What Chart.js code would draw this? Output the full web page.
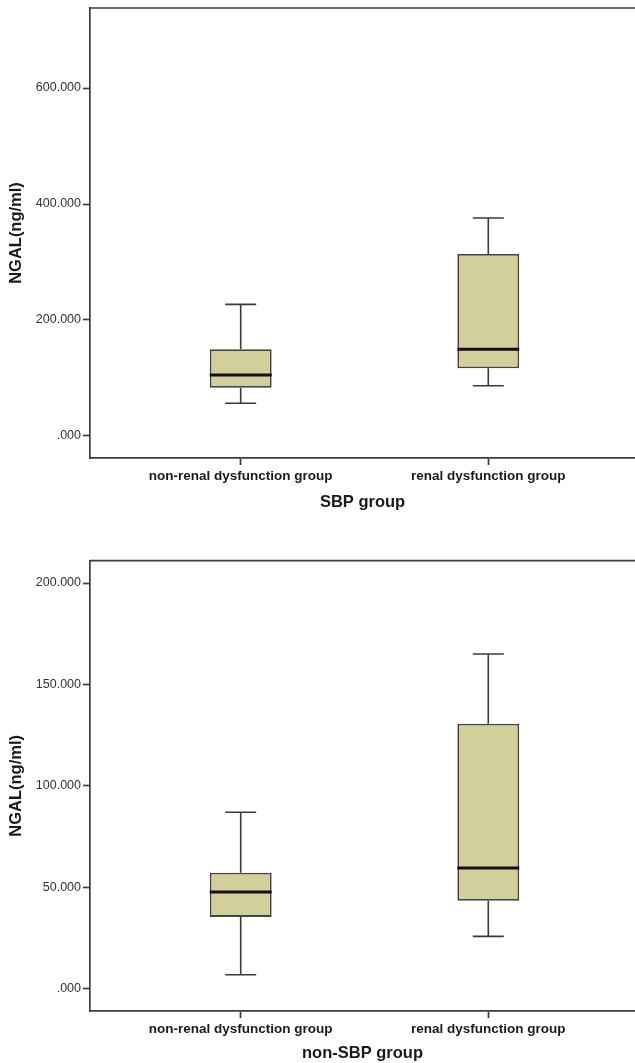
<!DOCTYPE html>
<html>
<head>
<meta charset="utf-8">
<script src="https://cdn.jsdelivr.net/npm/chart.js@4.4.1/dist/chart.umd.min.js"></script>
<style>
  body { margin: 0; background: #fff; }
  canvas { display: block; }
</style>
</head>
<body>
<canvas id="sbpChart" width="635" height="520"></canvas>
<canvas id="nonSbpChart" width="635" height="543"></canvas>
<script>
// groups on the x axis (1 and 2 on a linear scale)
const groups = ['non-renal dysfunction group', 'renal dysfunction group'];
const groupPos = [1, 2];

// SBP group
const sbpMin = [56.4, 86.7];
const sbpQ1 = [83.3, 116.7];
const sbpMedian = [105.2, 149.5];
const sbpQ3 = [149.5, 313.8];
const sbpMax = [227.0, 375.9];
const sbpTicks = [0, 200, 400, 600];

// non-SBP group
const nonSbpMin = [6.9, 25.8];
const nonSbpQ1 = [35.4, 43.4];
const nonSbpMedian = [47.7, 59.5];
const nonSbpQ3 = [57.2, 130.6];
const nonSbpMax = [87.0, 165.0];
const nonSbpTicks = [0, 50, 100, 150, 200];

const FONT = '"Liberation Sans", Arial, Helvetica, sans-serif';
const LINE = '#3d3d3d';
const BOX_FILL = 'rgb(211, 207, 154)';
const BOX_HALF = 0.125;   // half box width, in x units
const CAP_HALF = 0.0626;  // half whisker cap, in x units

// top border of the frame
const frameTop = {
    id: 'frameTop',
    afterDraw(chart) {
        const { ctx, chartArea } = chart;
        ctx.save();
        ctx.strokeStyle = LINE;
        ctx.lineWidth = 1.7;
        ctx.beginPath();
        ctx.moveTo(chartArea.left, chartArea.top);
        ctx.lineTo(chartArea.right, chartArea.top);
        ctx.stroke();
        ctx.restore();
    },
};

function whiskerPoints(min, q1, q3, max) {
    const pts = [];
    groupPos.forEach((x, i) => {
        pts.push({ x: x, y: q3[i] }, { x: x, y: max[i] }, { x: x, y: null });
        pts.push({ x: x, y: min[i] }, { x: x, y: q1[i] }, { x: x, y: null });
        pts.push({ x: x - CAP_HALF, y: max[i] }, { x: x + CAP_HALF, y: max[i] }, { x: x, y: null });
        pts.push({ x: x - CAP_HALF, y: min[i] }, { x: x + CAP_HALF, y: min[i] }, { x: x, y: null });
    });
    return pts;
}

function medianPoints(median) {
    const pts = [];
    groupPos.forEach((x, i) => {
        pts.push({ x: x - BOX_HALF, y: median[i] }, { x: x + BOX_HALF, y: median[i] }, { x: x, y: null });
    });
    return pts;
}

function createBoxPlot(chartId, stats, yTicks, yMin, yMax, xTitle, layout) {
    const ctx = document.getElementById(chartId).getContext('2d');
    new Chart(ctx, {
        type: 'bar',
        data: {
            datasets: [
                {
                    type: 'line',
                    data: medianPoints(stats.median),
                    borderColor: '#111',
                    borderWidth: 3,
                    pointRadius: 0,
                    spanGaps: false,
                    order: 0,
                },
                {
                    type: 'bar',
                    data: groupPos.map((x, i) => ({ x: x, y: [stats.q1[i], stats.q3[i]] })),
                    backgroundColor: BOX_FILL,
                    borderColor: '#444',
                    borderWidth: 1.8,
                    borderSkipped: false,
                    barPercentage: 0.25,
                    categoryPercentage: 1,
                    order: 1,
                },
                {
                    type: 'line',
                    data: whiskerPoints(stats.min, stats.q1, stats.q3, stats.max),
                    borderColor: '#3a3a3a',
                    borderWidth: 1.6,
                    pointRadius: 0,
                    spanGaps: false,
                    order: 2,
                },
            ],
        },
        options: {
            responsive: false,
            animation: false,
            layout: { padding: { top: layout.top, left: 0, right: 0, bottom: 0 } },
            plugins: {
                legend: { display: false },
                tooltip: { enabled: false },
            },
            scales: {
                x: {
                    type: 'linear',
                    min: 0.3914,
                    max: 2.5925,
                    offset: false,
                    afterBuildTicks: (s) => { s.ticks = groupPos.map(v => ({ value: v })); },
                    afterFit: (s) => {
                        s.height = layout.xHeight;
                        s.paddingLeft = 0;
                        s.paddingRight = 0;
                    },
                    grid: {
                        display: true,
                        drawOnChartArea: false,
                        offset: false,
                        tickLength: 7,
                        tickColor: LINE,
                        tickWidth: 1.7,
                    },
                    border: { display: true, color: LINE, width: 1.7 },
                    ticks: {
                        padding: 3.5,
                        color: '#1a1a1a',
                        font: { family: FONT, size: 13.5, weight: 'bold' },
                        callback: (v) => groups[groupPos.indexOf(v)],
                    },
                    title: {
                        display: true,
                        text: xTitle,
                        color: '#1a1a1a',
                        font: { family: FONT, size: 16.5, weight: 'bold' },
                        padding: { top: 0, bottom: layout.titlePad },
                    },
                },
                y: {
                    type: 'linear',
                    position: 'left',
                    min: yMin,
                    max: yMax,
                    afterBuildTicks: (s) => { s.ticks = yTicks.map(v => ({ value: v })); },
                    afterFit: (s) => {
                        s.width = 90;
                        s.paddingTop = 0;
                        s.paddingBottom = 0;
                    },
                    grid: {
                        display: true,
                        drawOnChartArea: false,
                        tickLength: 7,
                        tickColor: LINE,
                        tickWidth: 1.7,
                    },
                    border: { display: true, color: LINE, width: 1.7 },
                    ticks: {
                        padding: 2,
                        color: '#333',
                        font: { family: FONT, size: 12.5 },
                        callback: (v) => (v === 0 ? '.000' : v.toFixed(3)),
                    },
                    title: {
                        display: true,
                        text: 'NGAL(ng/ml)',
                        color: '#1a1a1a',
                        font: { family: FONT, size: 16.5, weight: 'bold' },
                        padding: { top: 7, bottom: 0 },
                    },
                },
            },
        },
        plugins: [frameTop],
    });
}

createBoxPlot('sbpChart',
    { min: sbpMin, q1: sbpQ1, median: sbpMedian, q3: sbpQ3, max: sbpMax },
    sbpTicks, -38, 738, 'SBP group',
    { top: 8, xHeight: 62, titlePad: 8 });

createBoxPlot('nonSbpChart',
    { min: nonSbpMin, q1: nonSbpQ1, median: nonSbpMedian, q3: nonSbpQ3, max: nonSbpMax },
    nonSbpTicks, -11, 211, 'non-SBP group',
    { top: 40.7, xHeight: 52, titlePad: 0 });
</script>
</body>
</html>
